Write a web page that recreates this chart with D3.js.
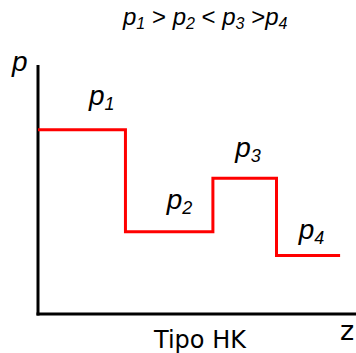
<!DOCTYPE html>
<html>
<head>
<meta charset="utf-8">
<script src="https://cdn.jsdelivr.net/npm/d3@7"></script>
<style>
  body { margin: 0; background: #fff; }
  svg { display: block; }
</style>
</head>
<body>
<script>
// step profile: pressure level per z-interval
const zEdges = [0, 2.75, 5.5, 7.5, 9.5];
const pLevels = [7.4, 3.3, 5.45, 2.35];
const pNames = ["1", "2", "3", "4"];
// where each label sits (z, p) on the chart
const labelZ = [1.6, 4.05, 6.2, 8.2];
const labelP = [8.4, 4.2, 6.3, 3.0];
const titleParts = [["p", "1"], [" > ", null], ["p", "2"], [" < ", null], ["p", "3"], [" >", null], ["p", "4"]];

const width = 356, height = 353;

const svg = d3.select("body")
    .append("svg")
    .attr("width", width)
    .attr("height", height);

const x = d3.scaleLinear().domain([0, 10]).range([38, 356]);
const y = d3.scaleLinear().domain([0, 10]).range([314, 65]);

// axes
svg.append("line")
    .attr("x1", x(0)).attr("y1", y(0) + 1.5)
    .attr("x2", x(0)).attr("y2", y(10))
    .attr("stroke", "#000").attr("stroke-width", 3);
svg.append("line")
    .attr("x1", x(0) - 1.5).attr("y1", y(0))
    .attr("x2", x(10)).attr("y2", y(0))
    .attr("stroke", "#000").attr("stroke-width", 3);

// step data
const steps = [];
pLevels.forEach(function (p, i) {
    steps.push({z: zEdges[i], p: p});
    steps.push({z: zEdges[i + 1], p: p});
});

const line = d3.line()
    .x(function (d) { return x(d.z); })
    .y(function (d) { return y(d.p); });

svg.append("path")
    .attr("fill", "none")
    .attr("stroke", "#ff0000")
    .attr("stroke-width", 3)
    .attr("d", line(steps));

// p labels
pNames.forEach(function (n, i) {
    const t = svg.append("text")
        .attr("x", x(labelZ[i]))
        .attr("y", y(labelP[i]))
        .attr("font-family", "Liberation Sans, Arial, sans-serif")
        .attr("font-style", "italic")
        .attr("font-size", 28);
    t.append("tspan").text("p");
    t.append("tspan").attr("font-size", 18).attr("dy", 5).text(n);
});

// title
const title = svg.append("text")
    .attr("x", 123)
    .attr("y", 25)
    .attr("font-family", "Liberation Sans, Arial, sans-serif")
    .attr("font-size", 24);
let inSub = false;
titleParts.forEach(function (part) {
    const back = inSub ? -4 : 0;
    if (part[1] === null) {
        title.append("tspan").attr("dy", back).text(part[0]);
        inSub = false;
    } else {
        title.append("tspan").attr("font-style", "italic").attr("dy", back).text(part[0]);
        title.append("tspan").attr("font-style", "italic").attr("font-size", 16)
            .attr("dy", 4).text(part[1]);
        inSub = true;
    }
});

// axis names
svg.append("text")
    .attr("x", 12).attr("y", 71)
    .attr("font-family", "Liberation Sans, Arial, sans-serif")
    .attr("font-style", "italic")
    .attr("font-size", 28)
    .text("p");

svg.append("text")
    .attr("x", 340).attr("y", 340)
    .attr("font-family", "DejaVu Sans, sans-serif")
    .attr("font-size", 27)
    .text("z");

svg.append("text")
    .attr("x", 200).attr("y", 348)
    .attr("text-anchor", "middle")
    .attr("font-family", "DejaVu Sans, sans-serif")
    .attr("font-size", 24)
    .text("Tipo HK");
</script>
</body>
</html>
